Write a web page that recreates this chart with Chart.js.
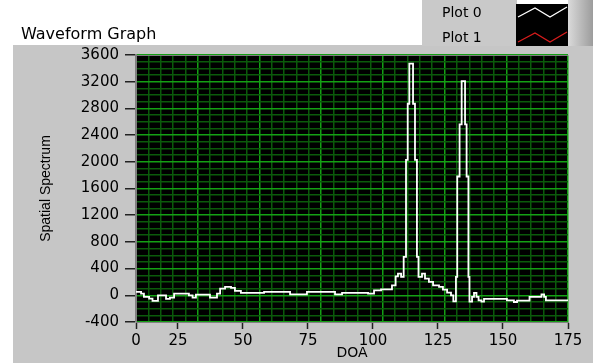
<!DOCTYPE html>
<html>
<head>
<meta charset="utf-8">
<title>Waveform Graph</title>
<script src="https://cdn.jsdelivr.net/npm/chart.js@4.4.0/dist/chart.umd.min.js"></script>
<style>
  html, body { margin: 0; padding: 0; background: #fff; }
  #wrap { width: 593px; height: 363px; }
</style>
</head>
<body>
<div id="wrap"><canvas id="graph" width="593" height="363"></canvas></div>
<script>
// DOA where the (step) trace changes, and the spatial spectrum value from there on
const doa = [8.85, 10.8, 11.9, 13.9, 15.2, 17.3, 20.4, 21.9, 23.5, 29.2, 30.6, 31.9,
  37.3, 40.0, 41.2, 43.1, 45.4, 46.9, 49.2, 58.1, 68.1, 74.6, 85.4, 88.1, 98.1,
  100.4, 103.1, 107.3, 108.7, 109.6, 110.8, 111.8, 112.7, 113.35, 113.97, 115.4,
  116.15, 116.9, 117.5, 118.85, 120.0, 121.5, 123.1, 125.4, 126.9, 128.5, 130.0,
  130.9, 131.9, 132.4, 133.3, 134.1, 135.4, 136.0, 136.7, 137.1, 138.1, 138.85,
  139.8, 140.6, 141.7, 142.7, 151.5, 154.2, 155.4, 160.2, 164.8, 165.8, 166.5, 175];
const spectrum = [50, 25, -25, -50, -85, 0, -55, -35, 25, 0, -35, 10,
  -35, 25, 100, 125, 110, 65, 35, 50, 15, 50, 15, 35, 25,
  75, 90, 150, 285, 325, 275, 575, 2030, 2870, 3470, 2870,
  2030, 575, 275, 325, 250, 200, 150, 125, 85, 40, 0,
  -90, 275, 1780, 2560, 3210, 2560, 1780, 275, -95, -25, 35,
  -25, -75, -95, -55, -75, -100, -80, -25, 15, -25, -75, -75];

// axis ticks as printed (the "0" sits at the left edge of the plot)
const xTickValues = [8.85, 25, 50, 75, 100, 125, 150, 175];
const xTickLabels = ['0', '25', '50', '75', '100', '125', '150', '175'];
const yTicks = [-400, 0, 400, 800, 1200, 1600, 2000, 2400, 2800, 3200, 3600];

const plotNames = ['Plot 0', 'Plot 1'];
const plotColors = ['#ffffff', '#d81c1c'];

const majorGreen = '#14a014';
const minorGreen = '#0b5a0b';
const panelGray = '#c6c6c6';

Chart.defaults.font.family = 'DejaVu Sans';
Chart.defaults.color = '#000';

// grey front panel, black plot area, title and the plot legend
const panel = {
  id: 'panel',
  beforeDraw(chart) {
    const ctx = chart.ctx, a = chart.chartArea;
    ctx.save();
    ctx.fillStyle = '#fff';
    ctx.fillRect(0, 0, chart.width, chart.height);
    ctx.fillStyle = panelGray;
    ctx.fillRect(13, 45, chart.width - 13, chart.height - 45);
    ctx.fillStyle = '#c9c9c9';
    ctx.fillRect(422, 0, 95, 46);
    const g = ctx.createLinearGradient(568, 0, 593, 0);
    g.addColorStop(0, '#dadada');
    g.addColorStop(1, '#9c9c9c');
    ctx.fillStyle = g;
    ctx.fillRect(568, 0, 25, 46);
    ctx.fillStyle = '#000';
    ctx.fillRect(a.left, a.top, a.right - a.left, a.bottom - a.top);
    ctx.restore();
  },
  afterDraw(chart) {
    const ctx = chart.ctx;
    ctx.save();
    ctx.fillStyle = '#000';
    ctx.font = '16px "DejaVu Sans"';
    ctx.textBaseline = 'middle';
    ctx.fillText('Waveform Graph', 21, 35);

    // legend: names on the left, a black swatch with a zigzag per plot
    ctx.font = '14px "DejaVu Sans"';
    ctx.fillStyle = '#000';
    ctx.fillRect(516, 4, 52, 42);
    chart.data.datasets.forEach((ds, i) => {
      const y = 13 + i * 25;
      ctx.fillStyle = '#000';
      ctx.fillText(ds.label, 442, y);
      ctx.strokeStyle = ds.borderColor;
      ctx.lineWidth = 1.3;
      ctx.beginPath();
      ctx.moveTo(518, y + 4);
      ctx.lineTo(535, y - 5);
      ctx.lineTo(550, y + 4);
      ctx.lineTo(567, y - 6);
      ctx.stroke();
    });
    ctx.restore();
  }
};

const points = doa.map((d, i) => ({ x: d, y: spectrum[i] }));

new Chart(document.getElementById('graph'), {
  type: 'line',
  data: {
    datasets: [
      {
        label: plotNames[0],
        data: points,
        stepped: true,
        borderColor: plotColors[0],
        borderWidth: 1.8,
        pointRadius: 0,
        fill: false,
        xAxisID: 'x',
        yAxisID: 'y'
      },
      {
        label: plotNames[1],
        data: [],
        borderColor: plotColors[1],
        borderWidth: 1.8,
        pointRadius: 0,
        xAxisID: 'x',
        yAxisID: 'y'
      }
    ]
  },
  options: {
    responsive: false,
    devicePixelRatio: 1,
    animation: false,
    layout: { padding: { top: 55, right: 25, left: 0, bottom: 0 } },
    plugins: {
      legend: { display: false },
      tooltip: { enabled: false }
    },
    scales: {
      // labelled DOA axis
      x: {
        type: 'linear',
        position: 'bottom',
        min: xTickValues[0],
        max: xTickValues[xTickValues.length - 1],
        afterBuildTicks: s => { s.ticks = xTickValues.map(v => ({ value: v })); },
        afterFit: s => { s.height = 41; },
        grid: { drawOnChartArea: false, drawTicks: true, tickLength: 7, tickColor: '#222', tickWidth: 1.5 },
        border: { display: true, color: '#808080', width: 1 },
        ticks: {
          autoSkip: false,
          maxRotation: 0,
          padding: 3,
          font: { size: 15 },
          color: '#000',
          callback: (v, i) => xTickLabels[i]
        },
        title: { display: true, text: 'DOA', font: { size: 14 }, color: '#000', padding: { top: 0, bottom: 1 } }
      },
      // grid of the plot area
      xg: {
        type: 'linear',
        position: 'top',
        min: 0,
        max: 175,
        afterBuildTicks: s => {
          const t = [];
          for (let v = 0; v <= 175; v += 5) t.push({ value: v });
          s.ticks = t;
        },
        afterFit: s => { s.height = 0; },
        ticks: { display: false },
        border: { display: true, color: '#808080', width: 1 },
        grid: {
          drawTicks: false,
          lineWidth: 1.5,
          color: c => (c.tick && c.tick.value % 25 === 0) ? majorGreen : minorGreen
        }
      },
      y: {
        type: 'linear',
        min: yTicks[0],
        max: yTicks[yTicks.length - 1],
        afterBuildTicks: s => {
          const t = [];
          for (let v = yTicks[0]; v <= yTicks[yTicks.length - 1]; v += 100) t.push({ value: v });
          s.ticks = t;
        },
        afterFit: s => { s.width = 136; },
        border: { display: true, color: '#808080', width: 2 },
        grid: {
          lineWidth: 1.5,
          tickLength: 11,
          tickWidth: 1.5,
          color: c => (c.tick && yTicks.includes(c.tick.value)) ? majorGreen : minorGreen,
          tickColor: c => (c.tick && yTicks.includes(c.tick.value)) ? '#222' : 'rgba(0,0,0,0)'
        },
        ticks: {
          autoSkip: false,
          padding: 6,
          font: { size: 15 },
          color: '#000',
          callback: v => yTicks.includes(v) ? String(v) : ''
        },
        title: {
          display: true,
          text: 'Spatial Spectrum',
          font: { family: 'Liberation Sans Narrow, Liberation Sans', size: 14 },
          color: '#000',
          padding: { top: 38, bottom: 0 }
        }
      }
    }
  },
  plugins: [panel]
});
</script>
</body>
</html>
